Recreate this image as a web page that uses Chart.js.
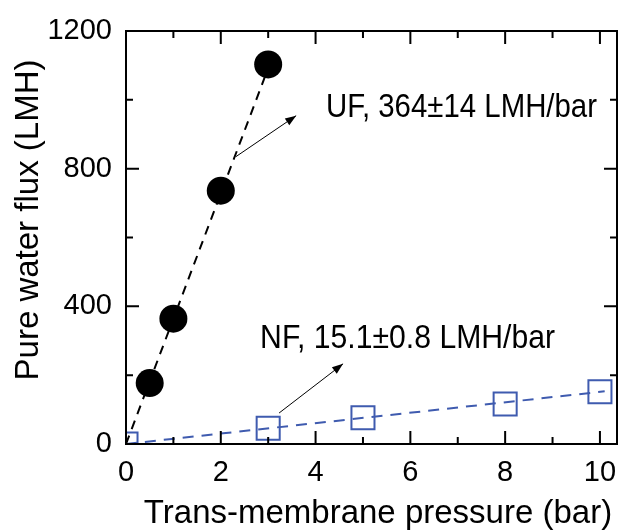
<!DOCTYPE html>
<html>
<head>
<meta charset="utf-8">
<script src="https://cdn.jsdelivr.net/npm/chart.js@4/dist/chart.umd.min.js"></script>
<style>
  html, body { margin: 0; padding: 0; background: #fff; overflow: hidden; }
  #wrap { position: absolute; left: 0; top: 0; width: 622px; height: 532px; }
</style>
</head>
<body>
<div id="wrap"><canvas id="flux_chart"></canvas></div>
<script>
// data
const pressureUF = [0.5, 1, 2, 3];
const fluxUF = [177, 364, 736, 1103];
const pressureNF = [0, 3, 5, 8, 10];
const fluxNF = [0, 46, 76, 116, 152];

// fitted lines (end points)
const fitUFx = [0, 3];
const fitUFy = [0, 1092];
const fitNFx = [0, 10.1];
const fitNFy = [0, 153];

const xTicks = [0, 2, 4, 6, 8, 10];
const yTicks = [0, 400, 800, 1200];

const BLUE = '#3f5baf';
const FONT = 'Liberation Sans, Arial, sans-serif';

function toPoints(xs, ys) {
    return xs.map((x, i) => ({ x: x, y: ys[i] }));
}

// frame, inward ticks, titles, arrows and labels
const decorPlugin = {
    id: 'decor',
    afterDatasetsDraw(chart) {
        const ctx = chart.ctx;
        const a = chart.chartArea;
        const xs = chart.scales.x;
        const ys = chart.scales.y;
        ctx.save();

        // frame
        ctx.strokeStyle = '#000';
        ctx.lineWidth = 2;
        ctx.strokeRect(a.left, a.top, a.right - a.left, a.bottom - a.top);

        // ticks on all four sides
        ctx.beginPath();
        for (let v = 0; v <= 10; v++) {
            const px = xs.getPixelForValue(v);
            const len = v % 2 === 0 ? 13 : 7;
            ctx.moveTo(px, a.bottom); ctx.lineTo(px, a.bottom - len);
            ctx.moveTo(px, a.top); ctx.lineTo(px, a.top + len);
        }
        for (let v = 0; v <= 1200; v += 200) {
            const py = ys.getPixelForValue(v);
            const len = v % 400 === 0 ? 13 : 7;
            ctx.moveTo(a.left, py); ctx.lineTo(a.left + len, py);
            ctx.moveTo(a.right, py); ctx.lineTo(a.right - len, py);
        }
        ctx.stroke();

        // axis titles
        ctx.fillStyle = '#000';
        ctx.font = '33px ' + FONT;
        ctx.textAlign = 'center';
        ctx.textBaseline = 'alphabetic';
        ctx.fillText('Trans-membrane pressure (bar)', 378, 523, 470);
        ctx.save();
        ctx.translate(38, 220);
        ctx.rotate(-Math.PI / 2);
        ctx.fillText('Pure water flux (LMH)', 0, 0, 326);
        ctx.restore();

        // arrows
        const arrow = (x1, y1, x2, y2) => {
            const p1 = [xs.getPixelForValue(x1), ys.getPixelForValue(y1)];
            const p2 = [xs.getPixelForValue(x2), ys.getPixelForValue(y2)];
            const ang = Math.atan2(p2[1] - p1[1], p2[0] - p1[0]);
            ctx.lineWidth = 1;
            ctx.beginPath();
            ctx.moveTo(p1[0], p1[1]);
            ctx.lineTo(p2[0], p2[1]);
            ctx.stroke();
            ctx.beginPath();
            ctx.moveTo(p2[0], p2[1]);
            ctx.lineTo(p2[0] - 11 * Math.cos(ang) + 4 * Math.sin(ang), p2[1] - 11 * Math.sin(ang) - 4 * Math.cos(ang));
            ctx.lineTo(p2[0] - 11 * Math.cos(ang) - 4 * Math.sin(ang), p2[1] - 11 * Math.sin(ang) + 4 * Math.cos(ang));
            ctx.closePath();
            ctx.fill();
        };
        arrow(2.32, 835, 3.59, 954);
        arrow(3.23, 90, 4.58, 233);

        // labels
        ctx.textAlign = 'left';
        ctx.fillText('UF, 364\u00b114 LMH/bar', xs.getPixelForValue(4.22), ys.getPixelForValue(951), 271);
        ctx.fillText('NF, 15.1\u00b10.8 LMH/bar', xs.getPixelForValue(2.83), ys.getPixelForValue(279), 295);

        ctx.restore();
    }
};

new Chart(document.getElementById('flux_chart').getContext('2d'), {
    type: 'scatter',
    data: {
        datasets: [
            {
                label: 'UF fit',
                data: toPoints(fitUFx, fitUFy),
                showLine: true,
                borderColor: '#000',
                borderWidth: 2,
                borderDash: [9, 7],
                pointRadius: 0
            },
            {
                label: 'NF fit',
                data: toPoints(fitNFx, fitNFy),
                showLine: true,
                borderColor: BLUE,
                borderWidth: 2,
                borderDash: [11, 8],
                pointRadius: 0
            },
            {
                label: 'UF',
                data: toPoints(pressureUF, fluxUF),
                pointStyle: 'circle',
                pointRadius: 14,
                backgroundColor: '#000',
                borderColor: '#000',
                borderWidth: 0
            },
            {
                label: 'NF',
                data: toPoints(pressureNF, fluxNF),
                pointStyle: 'rect',
                pointRadius: 16.3,
                backgroundColor: 'rgba(0,0,0,0)',
                borderColor: BLUE,
                borderWidth: 2,
                clip: 0
            }
        ]
    },
    plugins: [decorPlugin],
    options: {
        responsive: true,
        maintainAspectRatio: false,
        animation: false,
        layout: { autoPadding: false, padding: { top: 31, right: 5, left: 0, bottom: 0 } },
        plugins: {
            legend: { display: false },
            tooltip: { enabled: false }
        },
        scales: {
            x: {
                type: 'linear',
                min: 0,
                max: 10.36,
                afterFit: (scale) => {
                    scale.height = 88;
                    scale.paddingLeft = 0;
                    scale.paddingRight = 0;
                },
                afterBuildTicks: (scale) => { scale.ticks = xTicks.map(v => ({ value: v })); },
                grid: { display: false, drawTicks: false },
                border: { display: false },
                ticks: {
                    padding: 12,
                    color: '#000',
                    maxRotation: 0,
                    font: { family: FONT, size: 29 },
                    callback: (v) => String(v)
                }
            },
            y: {
                type: 'linear',
                min: 0,
                max: 1200,
                afterFit: (scale) => {
                    scale.width = 126;
                    scale.paddingTop = 0;
                    scale.paddingBottom = 0;
                },
                afterBuildTicks: (scale) => { scale.ticks = yTicks.map(v => ({ value: v })); },
                grid: { display: false, drawTicks: false },
                border: { display: false },
                ticks: {
                    padding: 14,
                    color: '#000',
                    font: { family: FONT, size: 29 },
                    callback: (v) => String(v)
                }
            }
        }
    }
});
</script>
</body>
</html>
